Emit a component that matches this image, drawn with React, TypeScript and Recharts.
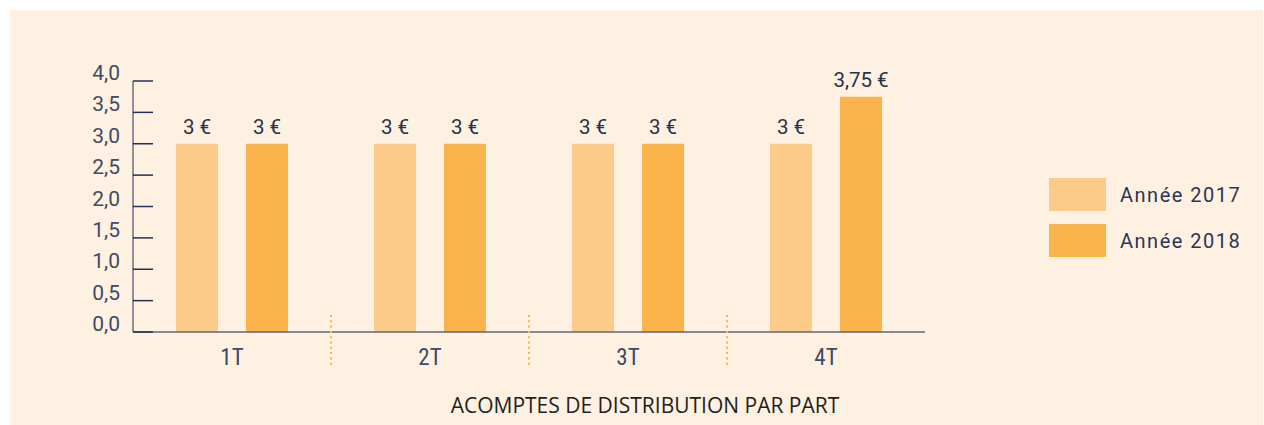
import React from 'react';
import { BarChart, Bar, XAxis, YAxis, LabelList } from 'recharts';

const quarters = ['1T', '2T', '3T', '4T'];
const values2017 = [3, 3, 3, 3];
const values2018 = [3, 3, 3, 3.75];
const yTicks = [0, 0.5, 1, 1.5, 2, 2.5, 3, 3.5, 4];
const seriesNames = ['Année 2017', 'Année 2018'];
const seriesColors = ['#fdcb89', '#fbb34c'];
const title = 'ACOMPTES DE DISTRIBUTION PAR PART';

const data = quarters.map((q, i) => ({ quarter: q, a2017: values2017[i], a2018: values2018[i] }));

const W = 1264;
const H = 425;
const MARGIN = { top: 81, right: 339, bottom: 63, left: 73 };
const Y_AXIS_W = 60;
const PLOT_W = W - MARGIN.left - MARGIN.right - Y_AXIS_W;

const NUM_FONT = 'Roboto, "DejaVu Sans", sans-serif';

const fmtTick = (v: number) => v.toFixed(1).replace('.', ',');
const fmtVal = (v: any) => `${String(v).replace('.', ',')} €`;

function YTick(props: any) {
  const { x, y, payload } = props;
  return (
    <g>
      <line x1={x + 13} x2={x + 33} y1={y} y2={y} stroke="#24304f" strokeWidth={1.5} />
      <text x={x} y={y - 1} textAnchor="end" fill="#3e4a66" fontSize={21} fontFamily={NUM_FONT}>
        {fmtTick(payload.value)}
      </text>
    </g>
  );
}

function XTick(props: any) {
  const { x, y, payload, index } = props;
  const band = PLOT_W / quarters.length;
  return (
    <g>
      <text x={x} y={y + 33} textAnchor="middle" fill="#3e4a66" fontSize={23}
        fontFamily={'"Liberation Sans Narrow", "Roboto Condensed", Roboto, sans-serif'}>
        {payload.value}
      </text>
      {index < quarters.length - 1 && (
        <line x1={x + band / 2} x2={x + band / 2} y1={y - 17} y2={y + 34}
          stroke="#f9b24a" strokeWidth={2} strokeDasharray="2 3.3" />
      )}
    </g>
  );
}

export default function App() {
  return (
    <div style={{ position: 'absolute', left: 0, top: 0, width: W, height: H, background: '#ffffff', overflow: 'hidden' }}>
      <div style={{ position: 'absolute', left: 10, top: 10, width: 1253, height: 415, background: '#fef1e1' }} />
      <div style={{ position: 'absolute', left: 0, top: 0 }}>
        <BarChart width={W} height={H} data={data} margin={MARGIN} barGap={28} barSize={42}>
          <XAxis dataKey="quarter" height={30} tickLine={false} tickSize={0} tickMargin={0}
            axisLine={{ stroke: '#5f6679', strokeWidth: 1.5 }} tick={<XTick />} interval={0} />
          <YAxis width={Y_AXIS_W} domain={[0, 4]} ticks={yTicks} interval={0} tickLine={false}
            tickSize={0} tickMargin={13} axisLine={{ stroke: '#6b7183', strokeWidth: 1.5 }} tick={<YTick />} />
          <Bar dataKey="a2017" name={seriesNames[0]} fill={seriesColors[0]} isAnimationActive={false}>
            <LabelList dataKey="a2017" position="top" offset={10} formatter={fmtVal}
              fill="#26324f" fontSize={20.5} fontWeight={400} fontFamily={NUM_FONT} />
          </Bar>
          <Bar dataKey="a2018" name={seriesNames[1]} fill={seriesColors[1]} isAnimationActive={false}>
            <LabelList dataKey="a2018" position="top" offset={10} formatter={fmtVal}
              fill="#26324f" fontSize={20.5} fontWeight={400} fontFamily={NUM_FONT} />
          </Bar>
        </BarChart>
      </div>
      {seriesNames.map((name, i) => (
        <div key={name} style={{ position: 'absolute', left: 1049, top: 178 + i * 46, height: 33, display: 'flex', alignItems: 'center' }}>
          <div style={{ width: 57, height: 33, background: seriesColors[i] }} />
          <span style={{ marginLeft: 14, fontFamily: NUM_FONT, fontSize: 20, letterSpacing: 1.5, color: '#2a3654', whiteSpace: 'nowrap' }}>
            {name}
          </span>
        </div>
      ))}
      <div style={{ position: 'absolute', left: 345, width: 600, top: 394, lineHeight: '22px', textAlign: 'center',
        fontFamily: '"Open Sans", sans-serif', fontSize: 21, color: '#231f20', whiteSpace: 'nowrap' }}>
        {title}
      </div>
    </div>
  );
}
